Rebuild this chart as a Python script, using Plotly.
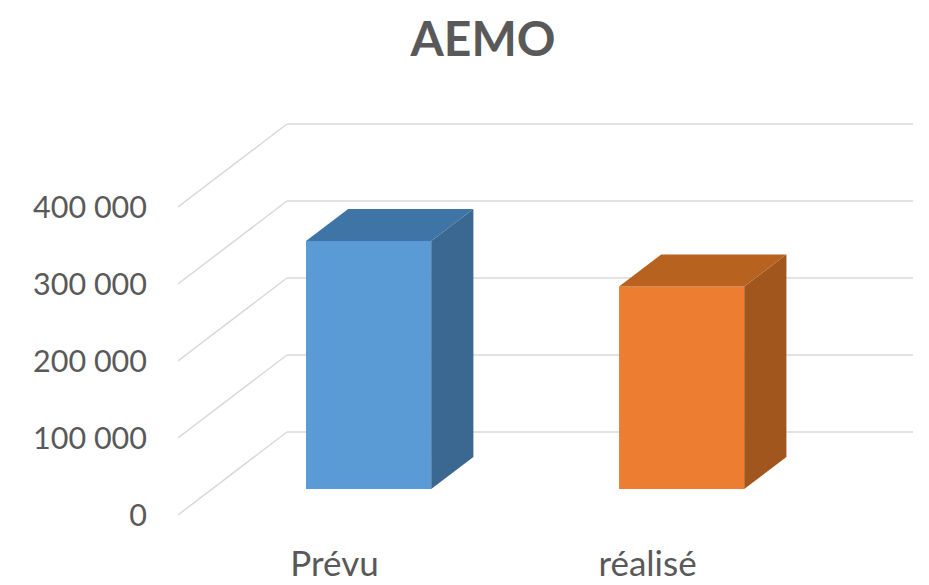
import plotly.graph_objects as go

categories = ["Prévu", "réalisé"]
values = [322000, 263000]
bar_colors = ["#5B9BD5", "#ED7D31"]
side_colors = ["#3A6891", "#A0561C"]
top_colors = ["#3E74A6", "#B8621F"]
y_ticks = [0, 100000, 200000, 300000, 400000]
y_labels = ["0", "100 000", "200 000", "300 000", "400 000"]

# Pseudo-3D projection, in axis units
DEPTH_X = 0.348
DEPTH_Y = 107800
NEAR = 0.313
FAR = 0.70
BAR_WIDTH = 0.40
X_MIN, X_MAX = -0.5, 1.848
GRID = "#D9D9D9"
TEXT = "#595959"
FONT = "Lato"

fig = go.Figure()

# Front faces
fig.add_trace(go.Bar(
    x=[i + NEAR * DEPTH_X for i in range(len(categories))],
    y=values,
    base=[NEAR * DEPTH_Y] * len(values),
    width=BAR_WIDTH,
    marker=dict(color=bar_colors, line=dict(width=0)),
    hoverinfo="skip",
    showlegend=False,
))

# Side and top faces
for i, v in enumerate(values):
    left = i + NEAR * DEPTH_X - BAR_WIDTH / 2
    right = left + BAR_WIDTH
    dx = (FAR - NEAR) * DEPTH_X
    dy = (FAR - NEAR) * DEPTH_Y
    y0 = NEAR * DEPTH_Y
    y1 = y0 + v
    fig.add_trace(go.Scatter(
        x=[right, right + dx, right + dx, right, right],
        y=[y0, y0 + dy, y1 + dy, y1, y0],
        mode="lines", fill="toself", fillcolor=side_colors[i],
        line=dict(width=0, color=side_colors[i]),
        hoverinfo="skip", showlegend=False,
    ))
    fig.add_trace(go.Scatter(
        x=[left, left + dx, right + dx, right, left],
        y=[y1, y1 + dy, y1 + dy, y1, y1],
        mode="lines", fill="toself", fillcolor=top_colors[i],
        line=dict(width=0, color=top_colors[i]),
        hoverinfo="skip", showlegend=False,
    ))

# Wall and floor gridlines, behind the bars
shapes = []
for t in y_ticks:
    shapes.append(dict(type="line", layer="below", xref="x", yref="y",
                       x0=X_MIN, y0=t, x1=X_MIN + DEPTH_X, y1=t + DEPTH_Y,
                       line=dict(color=GRID, width=1.5)))
    shapes.append(dict(type="line", layer="below", xref="x", yref="y",
                       x0=X_MIN + DEPTH_X, y0=t + DEPTH_Y, x1=X_MAX, y1=t + DEPTH_Y,
                       line=dict(color=GRID, width=1.5)))

fig.update_layout(
    width=929, height=585,
    autosize=False,
    margin=dict(l=170, r=24, t=102, b=63),
    paper_bgcolor="white", plot_bgcolor="white",
    font=dict(family=FONT, color=TEXT),
    title=dict(text="<b>AEMO</b>", x=475 / 929, xanchor="center", xref="container",
               y=1 - 31 / 585, yanchor="middle", yref="container",
               font=dict(family=FONT, size=48, color=TEXT)),
    shapes=shapes,
    xaxis=dict(range=[X_MIN, X_MAX], tickmode="array", tickvals=list(range(len(categories))),
               ticktext=categories, showgrid=False, zeroline=False, showline=False,
               ticks="", tickfont=dict(size=35, color=TEXT), ticklabelstandoff=10,
               automargin=False),
    yaxis=dict(range=[-19480, 525970], tickmode="array", tickvals=y_ticks, ticktext=y_labels,
               showgrid=False, zeroline=False, showline=False, ticks="",
               tickfont=dict(size=30.5, color=TEXT), ticklabelstandoff=30,
               automargin=False),
)

fig.write_html("out.html")
